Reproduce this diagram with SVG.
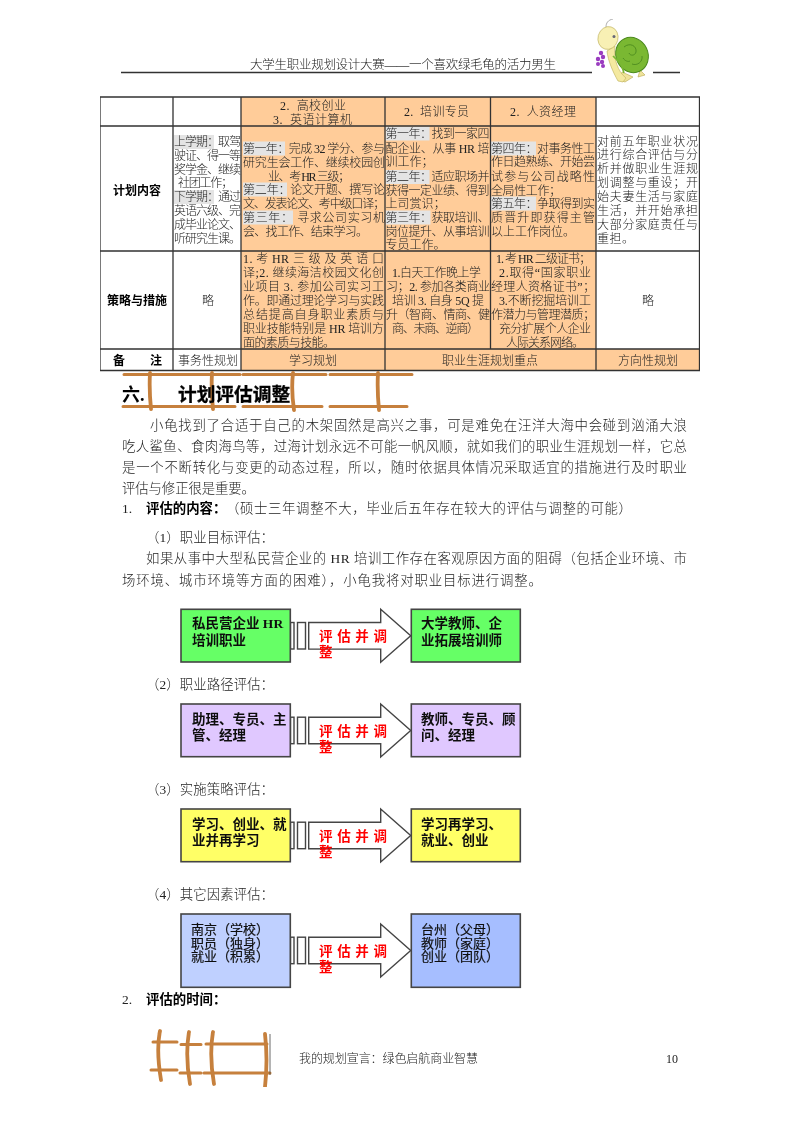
<svg xmlns="http://www.w3.org/2000/svg" width="800" height="1132" viewBox="0 0 800 1132">
<style>
text{font-family:"Liberation Serif","Noto Sans CJK SC",serif;fill:#222;white-space:pre}
.t{font-size:12px;font-weight:300}
.m{text-anchor:middle}
.p{font-size:13.4px;font-weight:300}
.b{font-weight:700;fill:#000}
.hl{fill:#e4e4e4}
.or{fill:#ffcc99}
.ln{stroke:#333;stroke-width:1.3;fill:none}
.box{stroke:#444;stroke-width:1.6}
.bt{font-size:13.5px;font-weight:700;fill:#111}
.bl{font-size:13px;fill:#111;stroke:#111;stroke-width:.2}
.arr{fill:#fff;stroke:#444;stroke-width:1.4}
.rd{font-size:13.5px;font-weight:700;fill:#f00}
.wood{stroke:#c6803c;fill:none;stroke-linecap:round}
.wh{stroke-width:3}
.wv{stroke-width:3.8}
</style>
<defs>
<filter id="soft" x="0" y="0" width="100%" height="100%"><feGaussianBlur stdDeviation="0.35"/></filter>
<g id="arrow">
<rect class="arr" x="290.500" y="13.200" width="3.500" height="26.500"/>
<rect class="arr" x="297.500" y="13.200" width="8" height="26.500"/>
<path class="arr" d="M308.700 13.200H380.700V0L410.700 26.500L380.700 53V39.800H308.700Z"/>
<text class="rd" x="319" y="31.500" textLength="68">评估并调</text>
<text class="rd" x="319" y="48">整</text>
</g>
</defs>
<rect width="800" height="1132" fill="#fff"/>
<g filter="url(#soft)">
<g id="header">
<text x="250" y="68.500" font-size="12.500" font-weight="300" textLength="306">大学生职业规划设计大赛——一个喜欢绿毛龟的活力男生</text>
<path class="ln" d="M121 72.500H592M653 72.500H680" style="stroke-width:1.6"/>
</g>

<g id="turtle">
<path d="M622 72l-3 8 6 2 8-5ZM640 70l5 5-7 2Z" fill="#efe39a" stroke="#b8a850" stroke-width=".6"/>
<ellipse cx="632" cy="55" rx="16" ry="18" fill="#7ab833" stroke="#4c8a1e" transform="rotate(-25 632 55)"/>
<path d="M624 47c6-5 13-1 12 5c-1 4-6 4-7 1M632 64c5 2 11-2 10-8M623 58c2 3 5 4 7 3" stroke="#4c8a1e" fill="none" stroke-width=".9"/>
<path d="M615 46c-2 12 3 26 11 32l-3 4-5-1c-5-9-10-20-11-30Z" fill="#f4e9a0" stroke="#bcae58" stroke-width=".6"/>
<path d="M613 56l8 8 3 9" stroke="#7ab833" fill="none" stroke-width="1.600"/>
<ellipse cx="608" cy="38" rx="10" ry="11.500" fill="#f8f0b4" stroke="#bcae58" stroke-width=".6" transform="rotate(15 608 38)"/>
<circle cx="614" cy="36.500" r="1.500" fill="#667"/>
<path d="M606 27c0-4 2-7 7-8" stroke="#999" fill="none" stroke-width=".8"/>
<g fill="#9a3cc0"><circle cx="601" cy="53" r="2.200"/><circle cx="603" cy="57" r="2.200"/><circle cx="598" cy="59" r="2.200"/><circle cx="602" cy="62" r="2.200"/><circle cx="598" cy="64" r="2"/><circle cx="603" cy="66" r="2"/></g>
</g>

<g id="table">
<rect class="or" x="241" y="97" width="355" height="252"/>
<rect class="or" x="241" y="349" width="459" height="21.500"/>
<g class="hl">
<rect x="174" y="135" width="40" height="14"/><rect x="174" y="190" width="40" height="14"/>
<rect x="243" y="141.500" width="42" height="14"/><rect x="243" y="182.500" width="44" height="14"/><rect x="243" y="210.500" width="50" height="14"/>
<rect x="385.500" y="126.500" width="44" height="14"/><rect x="385.500" y="170" width="44" height="14"/><rect x="385.500" y="210.500" width="45" height="14"/>
<rect x="491" y="141.500" width="45" height="14"/><rect x="491" y="196.500" width="45" height="14"/>
</g>
<path class="ln" d="M100 97H699.500V370.500H100ZM100 126H699.500M100 251H699.500M100 349H699.500M173 97V370.500M241 97V370.500M385 97V370.500M490.500 97V349M596 97V370.500"/>

<text class="t" x="280" y="110" textLength="66">2.  高校创业</text>
<text class="t" x="273" y="124" textLength="79">3.  英语计算机</text>
<text class="t" x="404" y="116" textLength="65">2.  培训专员</text>
<text class="t" x="510" y="116" textLength="66">2.  人资经理</text>

<text class="t m b" x="137" y="195">计划内容</text>
<g class="t">
<text x="174" y="146" textLength="67">上学期：取驾</text>
<text x="174" y="160" textLength="67">驶证、得一等</text>
<text x="174" y="174" textLength="67">奖学金、继续</text>
<text x="178" y="187" textLength="55">社团工作；</text>
<text x="174" y="201" textLength="67">下学期：通过</text>
<text x="174" y="215" textLength="67">英语六级、完</text>
<text x="174" y="229" textLength="67">成毕业论文、</text>
<text x="174" y="243" textLength="67">听研究生课。</text>

<text x="243" y="153" textLength="142">第一年：完成 32 学分、参与</text>
<text x="243" y="167" textLength="142">研究生会工作、继续校园创</text>
<text x="268" y="181" textLength="82">业、考 HR 三级；</text>
<text x="243" y="194" textLength="142">第二年：论文开题、撰写论</text>
<text x="243" y="208" textLength="142">文、发表论文、考中级口译；</text>
<text x="243" y="222" textLength="142">第三年： 寻求公司实习机</text>
<text x="243" y="236" textLength="125">会、找工作、结束学习。</text>

<text x="385.500" y="138" textLength="104">第一年：找到一家四</text>
<text x="385.500" y="153" textLength="104">配企业、从事 HR 培</text>
<text x="385.500" y="166" textLength="48">训工作；</text>
<text x="385.500" y="181" textLength="104">第二年：适应职场并</text>
<text x="385.500" y="195" textLength="104">获得一定业绩、得到</text>
<text x="385.500" y="208" textLength="60">上司赏识；</text>
<text x="385.500" y="222" textLength="104">第三年：获取培训、</text>
<text x="385.500" y="236" textLength="104">岗位提升、从事培训</text>
<text x="385.500" y="249" textLength="60">专员工作。</text>

<text x="491" y="153" textLength="104">第四年：对事务性工</text>
<text x="491" y="166" textLength="104">作日趋熟练、开始尝</text>
<text x="491" y="181" textLength="104">试参与公司战略性</text>
<text x="491" y="195" textLength="70">全局性工作；</text>
<text x="491" y="208" textLength="104">第五年：争取得到实</text>
<text x="491" y="222" textLength="104">质晋升即获得主管</text>
<text x="491" y="236" textLength="84">以上工作岗位。</text>

<text x="597" y="146" textLength="101">对前五年职业状况</text>
<text x="597" y="159" textLength="101">进行综合评估与分</text>
<text x="597" y="173" textLength="101">析并做职业生涯规</text>
<text x="597" y="187" textLength="101">划调整与重设；开</text>
<text x="597" y="201" textLength="101">始夫妻生活与家庭</text>
<text x="597" y="215" textLength="101">生活，并开始承担</text>
<text x="597" y="229" textLength="101">大部分家庭责任与</text>
<text x="597" y="243" textLength="37">重担。</text>
</g>

<text class="t m b" x="137" y="305">策略与措施</text>
<text class="t m" x="208" y="305">略</text>
<text class="t m" x="648" y="305">略</text>
<g class="t">
<text x="243" y="263" textLength="141">1. 考 HR 三 级 及 英 语 口</text>
<text x="243" y="277" textLength="141">译;2. 继续海洁校园文化创</text>
<text x="243" y="291" textLength="141">业项目 3. 参加公司实习工</text>
<text x="243" y="305" textLength="141">作。即通过理论学习与实践</text>
<text x="243" y="319" textLength="141">总结提高自身职业素质与</text>
<text x="243" y="333" textLength="141">职业技能特别是 HR 培训方</text>
<text x="243" y="347" textLength="92">面的素质与技能。</text>

<text x="392" y="277" textLength="89">1.白天工作晚上学</text>
<text x="386" y="291" textLength="104">习；2. 参加各类商业</text>
<text x="392" y="305" textLength="92">培训 3. 自身 5Q 提</text>
<text x="386" y="319" textLength="104">升（智商、情商、健</text>
<text x="392" y="333" textLength="87">商、未商、逆商）</text>

<text x="496" y="263" textLength="95">1. 考 HR 二级证书；</text>
<text x="499" y="277" textLength="92">2.取得“国家职业</text>
<text x="491" y="291" textLength="104">经理人资格证书”；</text>
<text x="499" y="305" textLength="92">3.不断挖掘培训工</text>
<text x="491" y="319" textLength="104">作潜力与管理潜质；</text>
<text x="499" y="333" textLength="92">充分扩展个人企业</text>
<text x="506" y="347" textLength="78">人际关系网络。</text>
</g>

<text class="t b" x="113" y="365">备</text>
<text class="t b" x="150" y="365">注</text>
<text class="t m" x="208" y="365">事务性规划</text>
<text class="t m" x="313" y="365">学习规划</text>
<text class="t m" x="490" y="365">职业生涯规划重点</text>
<text class="t m" x="648" y="365">方向性规划</text>
</g>

<g id="fence-top">
<path class="wood wh" d="M124 374.500H240M243 374.500H326M330 374.500H412"/>
<path class="wood wh" d="M123 406.500H235M243 406.500H322M330 406.500H407"/>
<path class="wood wv" d="M150 373Q149 390 151 409M212 373Q211 390 213 409M293 373Q291 390 294 410M378 373Q377 390 379 410"/>
</g>
<text x="122" y="401" font-size="18" class="b">六.</text>
<text x="178" y="401" font-size="18.700" class="b" stroke="#000" stroke-width=".3">计划评估调整</text>

<g id="body">
<text class="p" x="150" y="430" textLength="537">小龟找到了合适于自己的木架固然是高兴之事，可是难免在汪洋大海中会碰到汹涌大浪</text>
<text class="p" x="122" y="451" textLength="565">吃人鲨鱼、食肉海鸟等，过海计划永远不可能一帆风顺，就如我们的职业生涯规划一样，它总</text>
<text class="p" x="122" y="472" textLength="565">是一个不断转化与变更的动态过程，所以，随时依据具体情况采取适宜的措施进行及时职业</text>
<text class="p" x="122" y="493" textLength="133">评估与修正很是重要。</text>
<text class="p" x="122" y="513">1.</text>
<text class="p b" x="146" y="513">评估的内容：</text>
<text class="p" x="226" y="513" textLength="406">（硕士三年调整不大，毕业后五年存在较大的评估与调整的可能）</text>
<text class="p" x="146" y="542" textLength="128">（1）职业目标评估：</text>
<text class="p" x="146" y="563" textLength="541">如果从事中大型私民营企业的 HR 培训工作存在客观原因方面的阻碍（包括企业环境、市</text>
<text class="p" x="122" y="585" textLength="420">场环境、城市环境等方面的困难），小龟我将对职业目标进行调整。</text>
<text class="p" x="146" y="689" textLength="128">（2）职业路径评估：</text>
<text class="p" x="146" y="794" textLength="128">（3）实施策略评估：</text>
<text class="p" x="146" y="899" textLength="128">（4）其它因素评估：</text>
<text class="p" x="122" y="1004">2.</text>
<text class="p b" x="146" y="1004">评估的时间：</text>
</g>

<g id="connectors">
<use href="#arrow" x="0" y="609.300"/>
<use href="#arrow" x="0" y="704"/>
<use href="#arrow" x="0" y="809"/>
<use href="#arrow" x="0" y="924"/>
</g>

<g id="n1a"><rect class="box" x="181" y="609.300" width="109.300" height="52.700" fill="#66ff66"/><text class="bt" x="192" y="628">私民营企业 HR</text><text class="bt" x="192" y="645">培训职业</text></g>
<g id="n1b"><rect class="box" x="411.300" y="609.300" width="109" height="52.700" fill="#66ff66"/><text class="bt" x="421" y="628">大学教师、企</text><text class="bt" x="421" y="645">业拓展培训师</text></g>
<g id="n2a"><rect class="box" x="181" y="704" width="109.300" height="52.700" fill="#e0c8ff"/><text class="bt" x="192" y="724">助理、专员、主</text><text class="bt" x="192" y="740">管、经理</text></g>
<g id="n2b"><rect class="box" x="411.300" y="704" width="109" height="52.700" fill="#e0c8ff"/><text class="bt" x="421" y="724">教师、专员、顾</text><text class="bt" x="421" y="740">问、经理</text></g>
<g id="n3a"><rect class="box" x="181" y="809" width="109.300" height="52.700" fill="#ffff66"/><text class="bt" x="192" y="829">学习、创业、就</text><text class="bt" x="192" y="845">业并再学习</text></g>
<g id="n3b"><rect class="box" x="411.300" y="809" width="109" height="52.700" fill="#ffff66"/><text class="bt" x="421" y="829">学习再学习、</text><text class="bt" x="421" y="845">就业、创业</text></g>
<g id="n4a"><rect class="box" x="181" y="914" width="109.300" height="73.300" fill="#bfd0ff"/><text class="bl" x="191" y="934">南京（学校）</text><text class="bl" x="191" y="947.500">职员（独身）</text><text class="bl" x="191" y="961">就业（积累）</text></g>
<g id="n4b"><rect class="box" x="411.300" y="914" width="109" height="73.300" fill="#a6beff"/><text class="bl" x="421" y="934">台州（父母）</text><text class="bl" x="421" y="947.500">教师（家庭）</text><text class="bl" x="421" y="961">创业（团队）</text></g>

<g id="fence-bottom">
<path class="wood wh" d="M153 1042H177M181 1044.500H201M206 1044H267M151 1070H177M180 1073H201M204 1073H270"/>
<path class="wood wv" d="M160 1031Q156 1050 161 1080M189 1032Q185 1055 190 1084M213 1032Q209 1055 214 1084M265 1034Q268 1060 265 1087"/>
<path d="M270 1034V1075" stroke="#444" stroke-width=".8"/>
</g>

<g id="footer">
<text class="t" x="299" y="1063" textLength="179">我的规划宣言：绿色启航商业智慧</text>
<text class="t" x="666" y="1063">10</text>
</g>
</g>
</svg>
